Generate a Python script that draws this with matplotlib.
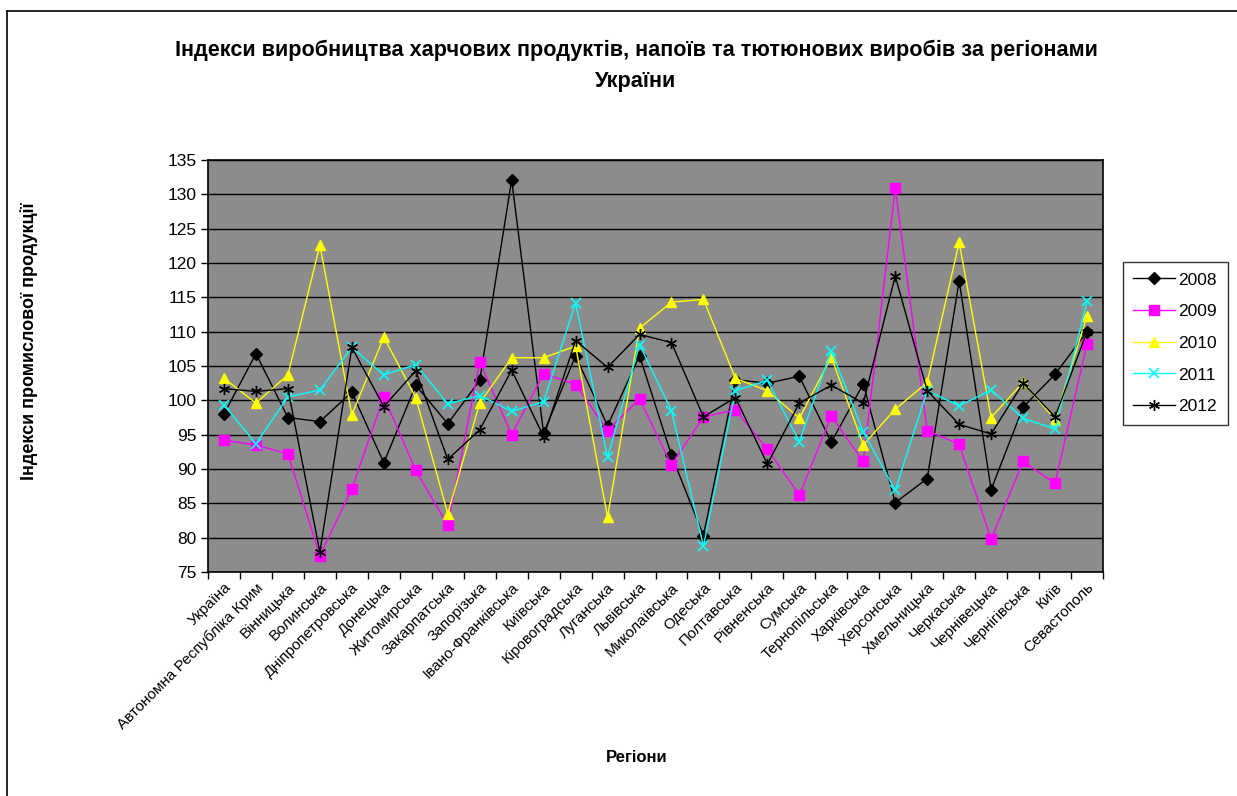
import matplotlib
matplotlib.use("Agg")
import matplotlib.pyplot as plt
from matplotlib.lines import Line2D
import numpy as np

plt.rcParams['font.family'] = ['Liberation Sans', 'DejaVu Sans']

regions = ["Україна", "Автономна Республіка Крим", "Вінницька", "Волинська",
           "Дніпропетровська", "Донецька", "Житомирська", "Закарпатська",
           "Запорізька", "Івано-Франківська", "Київська", "Кіровоградська",
           "Луганська", "Львівська", "Миколаївська", "Одеська", "Полтавська",
           "Рівненська", "Сумська", "Тернопільська", "Харківська", "Херсонська",
           "Хмельницька", "Черкаська", "Чернівецька", "Чернігівська", "Київ",
           "Севастополь"]

y2008 = [98.0, 106.8, 97.5, 96.9, 101.2, 90.9, 102.2, 96.6, 102.9, 132.1,
         95.2, 106.5, 96.3, 106.5, 92.0, 80.3, 103.0, 102.5, 103.5, 93.9,
         102.4, 85.1, 88.6, 117.4, 87.0, 99.0, 103.8, 110.0]
y2009 = [94.2, 93.5, 92.2, 77.4, 87.1, 100.5, 89.8, 81.8, 105.6, 95.0,
         103.9, 102.3, 95.6, 100.2, 90.6, 97.6, 98.6, 92.9, 86.2, 97.7,
         91.1, 130.9, 95.6, 93.6, 79.8, 91.1, 87.9, 108.2]
y2010 = [103.2, 99.6, 103.7, 122.6, 97.9, 109.2, 100.4, 83.5, 99.6, 106.2,
         106.2, 107.9, 83.0, 110.5, 114.3, 114.7, 103.2, 101.4, 97.4, 106.3,
         93.5, 98.7, 102.6, 123.0, 97.5, 102.6, 97.2, 112.3]
y2011 = [99.3, 93.7, 100.5, 101.5, 107.7, 103.7, 105.2, 99.5, 100.7, 98.4,
         99.8, 114.2, 91.7, 108.1, 98.5, 78.8, 101.4, 102.9, 94.0, 107.2,
         95.4, 86.9, 101.4, 99.2, 101.5, 97.4, 95.8, 114.4]
y2012 = [101.7, 101.3, 101.7, 77.9, 107.7, 99.1, 104.3, 91.4, 95.7, 104.4,
         94.7, 108.7, 104.8, 109.6, 108.4, 97.6, 100.4, 90.7, 99.6, 102.2,
         99.6, 118.1, 101.4, 96.5, 95.1, 102.5, 97.6, 110.0]

years = ["2008", "2009", "2010", "2011", "2012"]
series = [y2008, y2009, y2010, y2011, y2012]

W, H = 1237, 796
fig = plt.figure(figsize=(W / 100, H / 100), dpi=100)
ax = fig.add_axes([208 / W, 1 - 572 / H, (1103 - 208) / W, (572 - 160) / H])
ax.set_facecolor('#8c8c8c')

x = np.arange(len(regions)) + 0.5
styles = [
    dict(color='black', marker='D', markersize=6, markerfacecolor='black', markeredgecolor='black'),
    dict(color='#ff00ff', marker='s', markersize=6.5, markerfacecolor='#ff00ff', markeredgecolor='#ff00ff'),
    dict(color='#ffff00', marker='^', markersize=7.5, markerfacecolor='#ffff00', markeredgecolor='#ffff00'),
    dict(color='#00ffff', marker='x', markersize=7, markeredgewidth=1.2, markeredgecolor='#00ffff'),
    dict(color='black', marker=(6, 2, 0), markersize=8, markeredgewidth=1.0, markeredgecolor='black'),
]
for yr, ys, st in zip(years, series, styles):
    ax.plot(x, ys, linewidth=1.0, label=yr, **st)

ax.set_xlim(0, len(regions))
ax.set_ylim(75, 135)
ax.set_yticks(np.arange(75, 136, 5))
ax.yaxis.grid(True, color='black', linewidth=1.0)
ax.set_axisbelow(True)
ax.set_xticks(np.arange(0, len(regions) + 1))
ax.set_xticklabels([])
ax.set_xticks(x, minor=True)
ax.set_xticklabels(regions, minor=True, rotation=45, ha='right',
                   rotation_mode='anchor', fontsize=11)
ax.tick_params(axis='x', which='minor', length=0, pad=6)
ax.tick_params(axis='x', which='major', length=5, direction='out', width=1)
ax.tick_params(axis='y', length=5, direction='out', width=1, labelsize=12.5, pad=3)
for s in ax.spines.values():
    s.set_linewidth(1.2)
    s.set_color('black')

fig.text(636 / W, 1 - 50 / H, "Індекси виробництва харчових продуктів, напоїв та тютюнових виробів за регіонами",
         ha='center', va='center', fontsize=15.6, fontweight='bold')
fig.text(636 / W, 1 - 82 / H, "України", ha='center', va='center',
         fontsize=15.6, fontweight='bold')
fig.text(29 / W, 1 - 341 / H, "Індекси промислової продукції", rotation=90,
         ha='center', va='center', fontsize=13, fontweight='bold')
fig.text(637 / W, 1 - 757 / H, "Регіони", ha='center', va='center',
         fontsize=12, fontweight='bold')

leg = fig.legend(loc='upper left', bbox_to_anchor=(1123 / W, 1 - 262 / H),
                 frameon=True, fancybox=False, edgecolor='black', fontsize=12.5,
                 handlelength=2.4, labelspacing=0.95, borderpad=0.6,
                 handletextpad=0.2, borderaxespad=0)
leg.get_frame().set_linewidth(1.0)

fig.add_artist(Line2D([7 / W, 7 / W], [0, 1 - 11 / H], transform=fig.transFigure,
                      color='black', linewidth=1.2))
fig.add_artist(Line2D([7 / W, 1], [1 - 11 / H, 1 - 11 / H], transform=fig.transFigure,
                      color='black', linewidth=1.2))

fig.savefig("out.png", dpi=100)
